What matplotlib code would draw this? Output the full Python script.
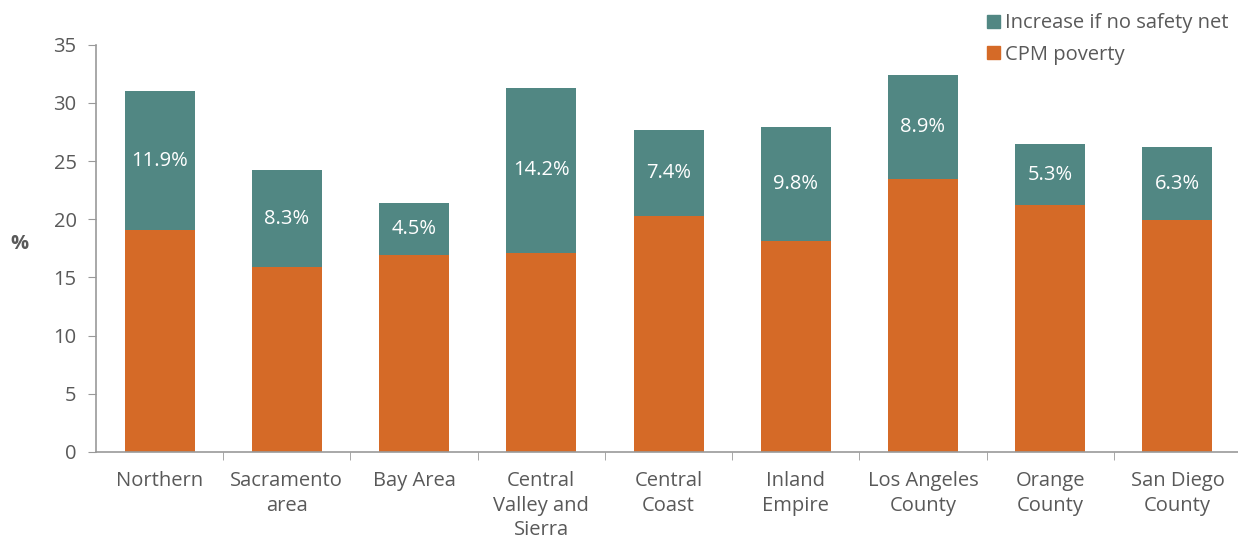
import numpy as np
import matplotlib.pyplot as plt
from matplotlib.patches import Patch

plt.rcParams['font.family'] = ['Open Sans', 'DejaVu Sans']

regions = ["Northern", "Sacramento\narea", "Bay Area", "Central\nValley and\nSierra",
           "Central\nCoast", "Inland\nEmpire", "Los Angeles\nCounty", "Orange\nCounty",
           "San Diego\nCounty"]
cpm_poverty = [19.1, 15.9, 16.9, 17.1, 20.3, 18.1, 23.5, 21.2, 19.9]
increase_no_net = [11.9, 8.3, 4.5, 14.2, 7.4, 9.8, 8.9, 5.3, 6.3]

orange = '#D56A27'
teal = '#518783'
gray = '#595959'
fs = 14.5

fig = plt.figure(figsize=(12.38, 5.4), dpi=100)
ax = fig.add_axes([0.0775, 0.163, 0.925, 0.754])

x = np.arange(len(regions))
ax.bar(x, cpm_poverty, width=0.55, color=orange)
ax.bar(x, increase_no_net, width=0.55, bottom=cpm_poverty, color=teal)

for i in range(len(regions)):
    ax.text(x[i], cpm_poverty[i] + increase_no_net[i] / 2, "%.1f%%" % increase_no_net[i],
            ha='center', va='center', color='white', fontsize=fs)

ax.set_xlim(-0.5, len(regions) - 0.5)
ax.set_ylim(0, 35)
ax.set_yticks(range(0, 36, 5))
ax.set_xticks(x)
ax.set_xticklabels(regions, fontsize=fs, color=gray, linespacing=1.3)
ax.tick_params(axis='x', length=0, pad=14)
ax.set_xticks(np.arange(0.5, len(regions) - 0.5), minor=True)
ax.tick_params(axis='x', which='minor', length=6, color='#999999', direction='out')
ax.tick_params(axis='y', labelsize=fs, colors=gray, length=6, color='#999999', pad=8)
for lab in ax.get_yticklabels():
    lab.set_color(gray)

for s in ['top', 'right']:
    ax.spines[s].set_visible(False)
for s in ['left', 'bottom']:
    ax.spines[s].set_color('#999999')
    ax.spines[s].set_linewidth(1.2)

fig.text(0.016, (540 - 244) / 540, "%", fontsize=fs, color=gray, ha='center', va='center',
         fontweight='bold')

handles = [Patch(color=teal, label='Increase if no safety net'),
           Patch(color=orange, label='CPM poverty')]
leg = fig.legend(handles=handles, loc='upper left', bbox_to_anchor=(0.7905, 0.99), frameon=False,
                 fontsize=fs, handlelength=0.65, handleheight=0.65, handletextpad=0.25,
                 labelspacing=0.55, borderaxespad=0)
for t in leg.get_texts():
    t.set_color(gray)

fig.savefig('out.png', dpi=100)
